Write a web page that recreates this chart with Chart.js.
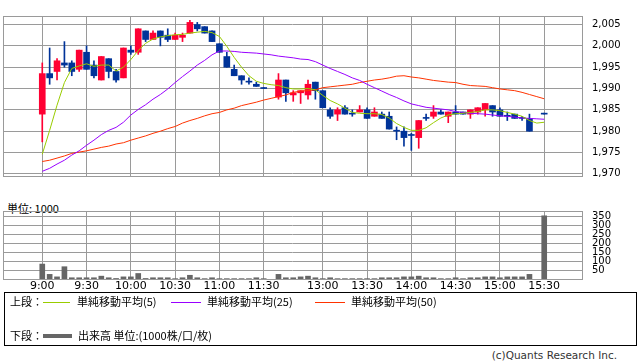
<!DOCTYPE html>
<html><head><meta charset="utf-8">
<script src="https://cdn.jsdelivr.net/npm/chart.js@4"></script>
<style>
html,body{margin:0;padding:0;background:#fff;}
body{width:638px;height:362px;position:relative;overflow:hidden;font-family:"DejaVu Sans",sans-serif;color:#000;}
canvas{position:absolute;left:0;}
#c1{top:0;z-index:2;}
#c2{top:195px;z-index:2;}
.t{position:absolute;font-family:"Noto Sans CJK JP","DejaVu Sans",sans-serif;font-size:11px;line-height:13px;white-space:nowrap;}
.ln{position:absolute;height:1px;}
#legend{position:absolute;left:4px;top:292px;width:631px;height:52px;border:1px solid #000;z-index:3;}
#unit{z-index:1;top:202px;left:7px;}
#copy{right:21px;top:349px;font-family:"DejaVu Sans",sans-serif;font-size:10.5px;color:#333;}
</style></head>
<body>
<div id="unit" class="t">単位: 1000</div>
<canvas id="c1" width="638" height="192"></canvas>
<canvas id="c2" width="638" height="100"></canvas>
<div id="legend"></div>
<div class="t" style="left:10px;top:295px;z-index:4">上段：</div>
<div class="ln" style="left:43px;top:302px;width:27px;background:#99cc00;z-index:4"></div>
<div class="t" style="left:77px;top:295px;z-index:4">単純移動平均(5)</div>
<div class="ln" style="left:171px;top:302px;width:30px;background:#9900ff;z-index:4"></div>
<div class="t" style="left:207px;top:295px;z-index:4">単純移動平均(25)</div>
<div class="ln" style="left:315px;top:302px;width:30px;background:#ff3300;z-index:4"></div>
<div class="t" style="left:351px;top:295px;z-index:4">単純移動平均(50)</div>
<div class="t" style="left:10px;top:329px;z-index:4">下段：</div>
<div class="ln" style="left:43px;top:334px;width:29px;height:4px;background:#666;z-index:4"></div>
<div class="t" style="left:78px;top:329px;z-index:4">出来高 単位:(1000株/口/枚)</div>
<div id="copy" class="t">(c)Quants Research Inc.</div>
<script>
// ---- data (slot index = 5-minute bar position; slot 31 and 67 have no trade) ----
const tickSlots = [0, 6, 12, 18, 24, 30, 38, 44, 50, 56, 62, 68];
const tickLabels = ['9:00','9:30','10:00','10:30','11:00','11:30','13:00','13:30','14:00','14:30','15:00','15:30'];
const priceTicks = [1970, 1975, 1980, 1985, 1990, 1995, 2000, 2005];
const volumeTicks = [50, 100, 150, 200, 250, 300, 350];

const open  = [1984,1993.5,1994,1996,1996,1994.5,1998.5,1995.5,1992,1997,1994,1992.5,1999,1998.5,2003.5,2001.5,2003.5,2002.5,2001.5,2002,2003,2005,2004.5,2003.5,2000.5,1997.5,1994.5,1993,1991.5,1991,1990,null,1988,1992,1988.5,1989,1988.5,1991.5,1989.5,1985,1984,1985.5,1984,1984.5,1985,1983.5,1984,1983.5,1980,1980,1979,1978.5,1983,1983.5,1984.5,1983.5,1984.5,1984.5,1984,1984.5,1985,1986,1985,1983.5,1984,1983,1983,null,1984];
const high  = [1996,1999.5,1997,2001,1996.5,1999,2000,1996.5,1997.5,1997,1994.5,1999.5,2000,2004,2003.5,2003.5,2003.5,2004,2003,2003,2006,2005.5,2004.5,2003.5,2000.5,1998.5,1995.5,1993,1992.5,1991.5,1990,null,1993.5,1992,1989.5,1989.5,1992,1991.5,1989.5,1985.5,1985.5,1986,1985,1986,1985.5,1985.5,1984.5,1984.5,1981,1981,1979.5,1982.5,1984,1986,1985,1984.5,1986,1984.5,1985,1985.5,1986.5,1986,1985.5,1984.5,1984,1983.5,1984,null,1984];
const low   = [1977.5,1991,1992,1995,1993,1994,1994.5,1992.5,1992,1992.5,1991.5,1992.5,1998,1998,2001,2001.5,2000,2001,2001.5,2001,2003,2003.5,2003,2001,1998.5,1995,1993,1991,1991,1990.5,1990,null,1987.5,1987,1987,1986.5,1987.5,1987.5,1985.5,1983,1982.5,1984,1983.5,1984.5,1983,1983.5,1983,1980.5,1978,1976.5,1975.5,1976,1982.5,1983,1984,1982,1984,1984,1983,1984,1983.5,1983.5,1983.5,1982.5,1983,1982.5,1980,null,1984];
const close = [1993.5,1992.5,1996.5,1995.5,1994,1999,1994.5,1993,1997.5,1994,1992,1999.5,1998.5,2004,2001.5,2003,2002,2001.5,2002.5,2002.5,2005.5,2004,2003,2001,1998.5,1995,1993,1992,1991.5,1990.5,1990,null,1992,1989,1989,1989.5,1991,1989.5,1985.5,1983.5,1985,1984,1984,1985,1983,1984.5,1983,1980.5,1980,1978.5,1979,1982.5,1983,1984.5,1984,1984.5,1984,1984,1985,1985.5,1986.5,1984.5,1983.5,1983.5,1983,1983,1980,null,1984];

const sma5  = [1974.6,1980.2,1986.1,1991.4,1994.7,1995.3,1995.8,1995.2,1995.5,1995.5,1994.1,1995.0,1996.8,1998.9,2000.6,2001.6,2002.1,2002.4,2002.6,2002.7,2003.0,2003.2,2003.4,2003.1,2002.2,1999.9,1997.3,1995.0,1993.0,1991.7,1991.2,1990.9,1990.7,1990.2,1989.9,1989.9,1990.0,1989.7,1988.4,1987.2,1986.4,1985.4,1984.4,1984.2,1984.1,1984.1,1983.9,1983.1,1981.8,1980.9,1980.2,1980.2,1980.8,1982.0,1983.1,1983.8,1984.1,1984.2,1984.4,1984.6,1985.0,1985.0,1984.8,1984.4,1984.0,1983.5,1982.5,1981.9,1982.1];
const sma25 = [1970.6,1971.3,1972.3,1973.2,1974.4,1975.4,1976.7,1977.9,1979.2,1980.2,1980.9,1982.1,1983.8,1985.1,1986.2,1987.5,1988.6,1989.9,1991.4,1992.8,1994.1,1995.5,1996.6,1997.9,1998.8,1998.8,1998.7,1998.5,1998.4,1998.3,1998.1,1997.9,1997.6,1997.4,1997.2,1996.9,1996.8,1996.3,1995.5,1994.7,1994.0,1993.3,1992.5,1991.9,1991.0,1990.2,1989.4,1988.6,1987.9,1987.1,1986.4,1986.0,1985.6,1985.4,1985.2,1985.0,1984.6,1984.4,1984.2,1984.1,1984.0,1983.8,1983.6,1983.5,1983.3,1983.1,1983.0,1982.9,1982.8];
const sma50 = [1972.9,1973.2,1973.7,1974.2,1974.8,1975.1,1975.4,1975.8,1976.2,1976.5,1977.0,1977.3,1977.9,1978.4,1978.9,1979.5,1980.0,1980.6,1981.1,1981.9,1982.5,1983.0,1983.6,1984.1,1984.4,1985.0,1985.4,1986.0,1986.4,1986.8,1987.3,1987.7,1988.1,1988.5,1989.1,1989.4,1989.5,1989.7,1990.2,1990.4,1990.6,1990.8,1991.0,1991.4,1991.7,1992.0,1992.2,1992.5,1992.9,1993.0,1992.7,1992.5,1992.2,1991.9,1991.7,1991.5,1991.4,1991.0,1990.7,1990.6,1990.5,1990.2,1989.9,1989.7,1989.5,1989.1,1988.6,1988.1,1987.6];

const volume = [84,26,12,69,7,7,7,7,16,7,3,12,12,31,3,7,7,7,2,7,21,7,2,7,2,2,2,2,2,7,2,null,26,7,7,12,16,7,2,7,2,2,2,2,2,2,7,7,7,12,12,16,7,7,2,2,7,2,7,7,12,12,7,12,12,12,26,null,355];

// ---- styling ----
const GRID = '#9a9a9a';
const UP = '#ff0033', DOWN = '#003399';
const X_MIN = -5.32, X_MAX = 73.12;

const slots = open.map((_, i) => i).filter(i => open[i] !== null);
const candleColor = slots.map(i => close[i] > open[i] ? UP : DOWN);

const frame = {
  id: 'frame',
  afterDraw(chart) {
    const {ctx, chartArea: a} = chart;
    ctx.save();
    ctx.strokeStyle = GRID;
    ctx.lineWidth = 1;
    ctx.strokeRect(Math.round(a.left) + 0.5, Math.round(a.top) + 0.5, Math.round(a.width), Math.round(a.height));
    ctx.restore();
  }
};

const xScale = (showLabels) => ({
  type: 'linear', min: X_MIN, max: X_MAX, offset: false,
  afterBuildTicks: s => { s.ticks = tickSlots.map(v => ({value: v})); },
  ticks: {display: showLabels, autoSkip: false, maxRotation: 0, padding: 1, color: '#000',
          font: {family: 'DejaVu Sans', size: 11},
          callback: v => tickLabels[tickSlots.indexOf(v)]},
  grid: {color: GRID, drawTicks: false, offset: false},
  border: {display: false},
  afterFit: s => { s.height = showLabels ? 14.6 : 0; }
});

const line = (data, color) => ({
  type: 'line', data: data.map((v, i) => ({x: i, y: v})), borderColor: color,
  borderWidth: 1, pointRadius: 0, tension: 0, fill: false, order: 0
});

new Chart(document.getElementById('c1'), {
  type: 'bar',
  data: {
    datasets: [
      line(sma5, '#99cc00'),
      line(sma25, '#9900ff'),
      line(sma50, '#ff3300'),
      {type: 'bar', data: slots.map(i => ({x: i, y: [open[i], close[i]]})), backgroundColor: candleColor,
       barThickness: 6, minBarLength: 1, grouped: false, order: 1},
      {type: 'bar', data: slots.map(i => ({x: i, y: [low[i], high[i]]})), backgroundColor: candleColor,
       barThickness: 1, minBarLength: 1, grouped: false, order: 2}
    ]
  },
  options: {
    responsive: false, animation: false,
    layout: {padding: {left: 3, top: 1, right: 0, bottom: 1}},
    plugins: {legend: {display: false}, tooltip: {enabled: false}},
    scales: {
      x: xScale(false),
      y: {position: 'right', min: 1969.5, max: 2007,
          afterBuildTicks: s => { s.ticks = priceTicks.map(v => ({value: v})); },
          ticks: {padding: 10, autoSkip: false, color: '#000', font: {family: 'DejaVu Sans', size: 10},
                  callback: v => v.toLocaleString('en-US')},
          grid: {color: GRID, drawTicks: false}, border: {display: false},
          afterFit: s => { s.width = 56; }}
    }
  },
  plugins: [frame]
});

const vslots = volume.map((_, i) => i).filter(i => volume[i] !== null);
new Chart(document.getElementById('c2'), {
  type: 'bar',
  data: {
    datasets: [{data: vslots.map(i => ({x: i, y: volume[i]})), backgroundColor: '#666666',
                barThickness: 5, grouped: false}]
  },
  options: {
    responsive: false, animation: false,
    layout: {padding: {left: 3, top: 6, right: 0, bottom: 0}},
    plugins: {legend: {display: false}, tooltip: {enabled: false}},
    scales: {
      x: xScale(true),
      y: {position: 'right', min: 0, max: 382,
          afterBuildTicks: s => { s.ticks = volumeTicks.map(v => ({value: v})); },
          ticks: {padding: 10, autoSkip: false, color: '#000', font: {family: 'DejaVu Sans', size: 10}},
          grid: {color: GRID, drawTicks: false}, border: {display: false},
          afterFit: s => { s.width = 56; }}
    }
  },
  plugins: [frame]
});
</script>
</body></html>
